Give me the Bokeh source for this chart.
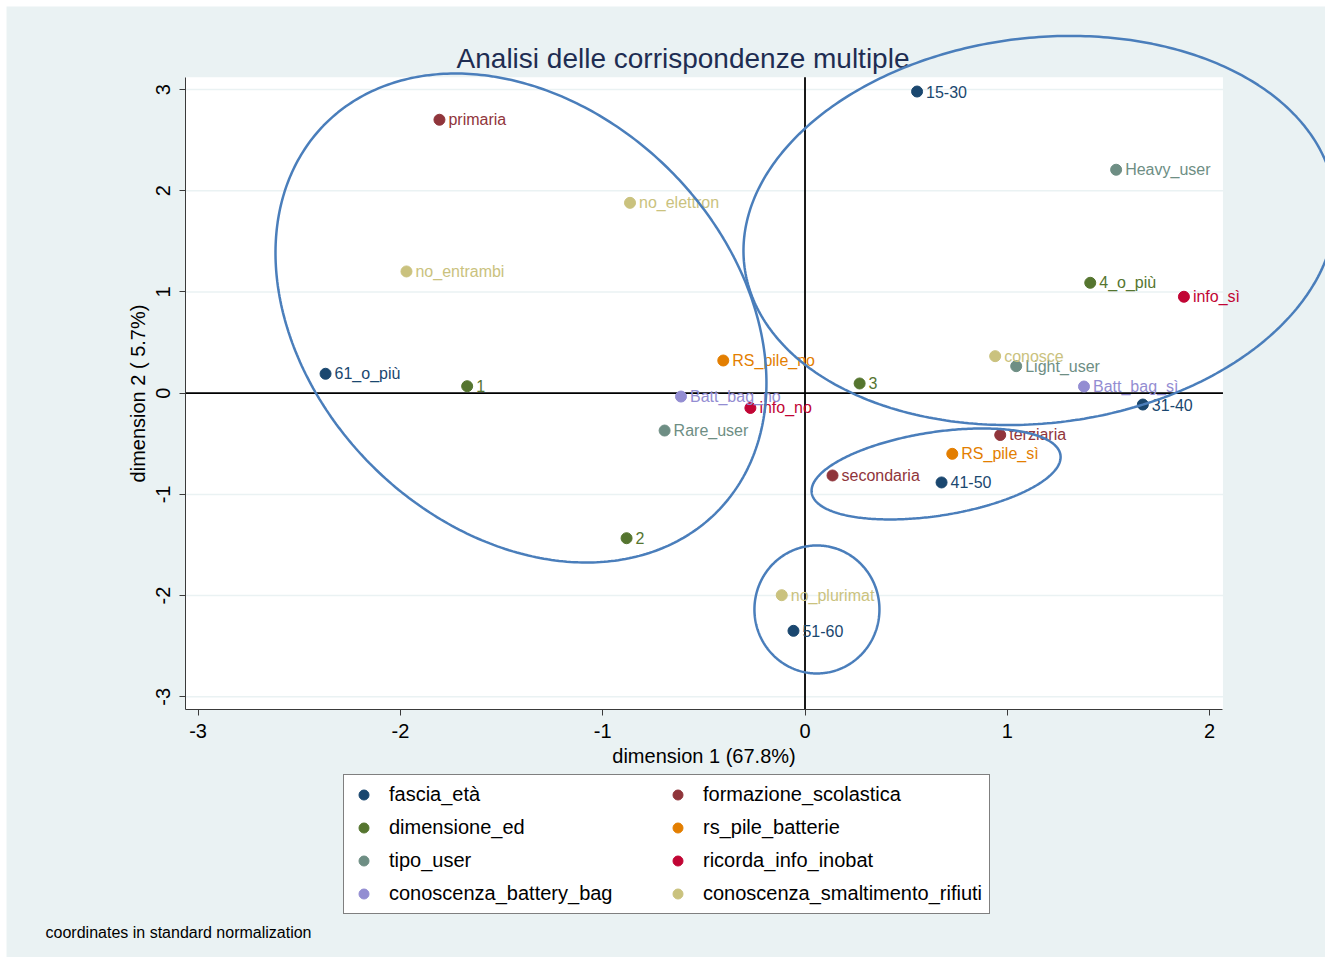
import numpy as np
from bokeh.plotting import figure
from bokeh.models import ColumnDataSource, FixedTicker, Legend, LegendItem, Range1d
from bokeh.core.properties import value
from bokeh.embed import file_html
from bokeh.resources import INLINE

# ---------------- data (MCA coordinates, standard normalization) ----------------
groups = ["fascia_età", "formazione_scolastica", "dimensione_ed", "rs_pile_batterie",
          "tipo_user", "ricorda_info_inobat", "conoscenza_battery_bag",
          "conoscenza_smaltimento_rifiuti"]

fascia_eta_cat = ["15-30", "31-40", "41-50", "51-60", "61_o_più"]
fascia_eta_d1 = [0.554, 1.670, 0.675, -0.057, -2.370]
fascia_eta_d2 = [2.981, -0.112, -0.882, -2.348, 0.192]

formazione_cat = ["primaria", "secondaria", "terziaria"]
formazione_d1 = [-1.807, 0.136, 0.965]
formazione_d2 = [2.702, -0.813, -0.413]

dimensione_cat = ["1", "2", "3", "4_o_più"]
dimensione_d1 = [-1.670, -0.882, 0.270, 1.410]
dimensione_d2 = [0.069, -1.433, 0.096, 1.091]

rs_pile_cat = ["RS_pile_sì", "RS_pile_no"]
rs_pile_d1 = [0.728, -0.404]
rs_pile_d2 = [-0.599, 0.323]

tipo_user_cat = ["Heavy_user", "Light_user", "Rare_user"]
tipo_user_d1 = [1.538, 1.044, -0.694]
tipo_user_d2 = [2.208, 0.267, -0.369]

info_cat = ["info_sì", "info_no"]
info_d1 = [1.873, -0.270]
info_d2 = [0.953, -0.146]

batt_bag_cat = ["Batt_bag_sì", "Batt_bag_no"]
batt_bag_d1 = [1.379, -0.613]
batt_bag_d2 = [0.066, -0.033]

smalt_cat = ["conosce", "no_elettron", "no_entrambi", "no_plurimat"]
smalt_d1 = [0.940, -0.865, -1.970, -0.115]
smalt_d2 = [0.366, 1.881, 1.203, -1.996]

x_ticks = [-3, -2, -1, 0, 1, 2]
y_ticks = [-3, -2, -1, 0, 1, 2, 3]

TITLE = "Analisi delle corrispondenze multiple"
XLABEL = "dimension 1 (67.8%)"
YLABEL = "dimension 2 ( 5.7%)"
NOTE = "coordinates in standard normalization"

# ---------------- styling / layout ----------------
colors = ["#1A476F", "#90353B", "#55752F", "#E37E00",
          "#6E8E84", "#C10534", "#938DD2", "#CAC27E"]
series = [
    (fascia_eta_cat, fascia_eta_d1, fascia_eta_d2),
    (formazione_cat, formazione_d1, formazione_d2),
    (dimensione_cat, dimensione_d1, dimensione_d2),
    (rs_pile_cat, rs_pile_d1, rs_pile_d2),
    (tipo_user_cat, tipo_user_d1, tipo_user_d2),
    (info_cat, info_d1, info_d2),
    (batt_bag_cat, batt_bag_d1, batt_bag_d2),
    (smalt_cat, smalt_d1, smalt_d2),
]

BG = "#EAF2F3"
FONT = "Liberation Sans"
W, H = 1325, 957
X_RANGE = (-3.9768, 2.5729)
Y_RANGE = (-5.5761, 3.8804)
PX0, PX1, PY0, PY1 = -3.062, 2.066, -3.128, 3.123       # plot region
GX0, GX1, GY0, GY1 = -3.947, 2.622, -5.675, 3.821       # graph region
SX = W / (X_RANGE[1] - X_RANGE[0])
SY = H / (Y_RANGE[1] - Y_RANGE[0])

p = figure(width=W, height=H, x_range=Range1d(*X_RANGE), y_range=Range1d(*Y_RANGE),
           output_backend="svg", toolbar_location=None, title=None, min_border=0,
           background_fill_color="white", border_fill_color="white",
           outline_line_color=None)

# graph region (light blue) and white plot region
g = p.quad(left=[GX0], right=[GX1], bottom=[GY0], top=[GY1],
           fill_color=BG, line_color=None)
g.level = "image"
reg = p.quad(left=[PX0], right=[PX1], bottom=[PY0], top=[PY1],
             fill_color="white", line_color=None)
reg.level = "image"

# horizontal grid lines inside the plot region only
p.xgrid.visible = False
p.ygrid.visible = False
p.segment(x0=[PX0] * len(y_ticks), x1=[PX1] * len(y_ticks), y0=y_ticks, y1=y_ticks,
          line_color=BG, line_width=1.5)

# axes
for ax, ticks, loc, bnds in ((p.xaxis[0], x_ticks, PY0, (PX0, PX1)),
                             (p.yaxis[0], y_ticks, PX0, (PY0, PY1))):
    ax.ticker = FixedTicker(ticks=ticks)
    ax.major_label_overrides = {t: str(t) for t in ticks}
    ax.fixed_location = loc
    ax.bounds = bnds
    ax.axis_line_color = "#3A3A3A"
    ax.major_tick_line_color = "#3A3A3A"
    ax.major_tick_out = 6
    ax.major_tick_in = 0
    ax.minor_tick_line_color = None
    ax.major_label_text_font = FONT
    ax.major_label_text_font_size = "20px"
    ax.major_label_text_color = "black"
    ax.axis_label_text_font = FONT
    ax.axis_label_text_font_size = "20px"
    ax.axis_label_text_font_style = "normal"
    ax.axis_label_text_color = "black"
p.xaxis.axis_label = XLABEL
p.yaxis.axis_label = YLABEL
p.xaxis.major_label_standoff = 8
p.xaxis.axis_label_standoff = 4
p.yaxis.major_label_orientation = "vertical"
p.yaxis.major_label_standoff = 10
p.yaxis.axis_label_standoff = 4

# zero lines
p.segment(x0=[PX0, 0], y0=[0, PY0], x1=[PX1, 0], y1=[0, PY1],
          line_color="black", line_width=1.8)

# points + labels
renderers = []
for (cats, d1, d2), col in zip(series, colors):
    src = ColumnDataSource(dict(x=d1, y=d2, lab=cats))
    r = p.scatter("x", "y", source=src, size=11, fill_color=col, line_color=col)
    p.text("x", "y", text="lab", source=src, x_offset=9, text_baseline="middle",
           text_align="left", text_font=value(FONT), text_font_size="16px",
           text_color=col)
    renderers.append(r)

# title and note
p.text(x=[-0.603], y=[3.307], text=[TITLE], text_align="center", text_baseline="middle",
       text_font=value(FONT), text_font_size="28px", text_color="#1E2D52")
p.text(x=[-3.754], y=[-5.329], text=[NOTE], text_align="left", text_baseline="middle",
       text_font=value(FONT), text_font_size="16px", text_color="black")

# hand-drawn ellipses (center in data units, semi-axes in px, angle in deg)
ellipses = [(-1.404, 0.743, 275.7, 209.8, -44.56),
            (1.159, 1.608, 297.2, 192.7, 6.8),
            (0.648, -0.798, 125.8, 41.8, 8.7),
            (0.059, -2.137, 62.5, 64.0, 0.0)]
t = np.linspace(0, 2 * np.pi, 400)
for cx, cy, a, b, ang in ellipses:
    th = np.deg2rad(ang)
    dx = a * np.cos(t) * np.cos(th) - b * np.sin(t) * np.sin(th)
    dy = a * np.cos(t) * np.sin(th) + b * np.sin(t) * np.cos(th)
    p.line(cx + dx / SX, cy + dy / SY, line_color="#4A7EBB", line_width=2.5)

# legend
order = [0, 2, 4, 6, 1, 3, 5, 7]
items = [LegendItem(label=groups[i], renderers=[renderers[i]]) for i in order]
legend = Legend(items=items, location=(343, 43), orientation="vertical", ncols=2,
                glyph_width=25, glyph_height=25, label_height=25, label_width=268,
                padding=7, spacing=8, label_standoff=13, margin=0,
                border_line_color="black", border_line_width=1,
                background_fill_color="white", background_fill_alpha=1.0,
                label_text_font=FONT, label_text_font_size="20px",
                label_text_color="black")
p.add_layout(legend, "center")

open("out.html", "w").write(file_html(p, INLINE))
